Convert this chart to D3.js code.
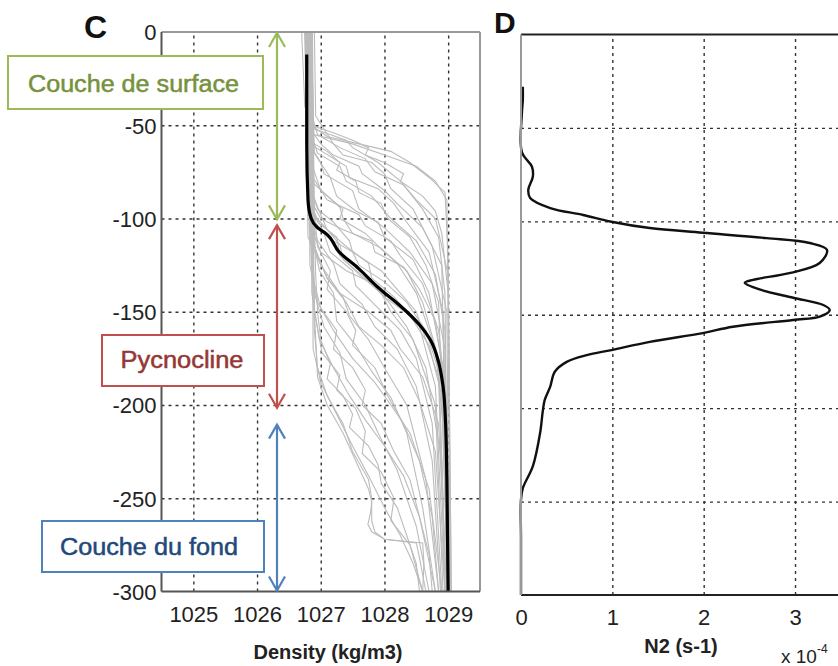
<!DOCTYPE html>
<html><head><meta charset="utf-8">
<script src="https://cdn.jsdelivr.net/npm/d3@7"></script>
<style>
html,body{margin:0;padding:0;background:#fff;}
svg{display:block;}
text{font-family:"Liberation Sans",Arial,sans-serif;}
</style></head>
<body>
<svg id="chart" width="838" height="666"></svg>
<script>
// ---------- DATA ----------
const densityTicks = [1025, 1026, 1027, 1028, 1029];
const depthTicks = [0, -50, -100, -150, -200, -250, -300];
const n2Ticks = [0, 1, 2, 3];
const n2GridDepths = [-50, -100, -150, -200, -250];

// Individual density profiles (grey): [depth, density]
const profiles = [
 [[0,1026.78],[-30,1026.8],[-50,1026.85],[-56,1027.1],[-60,1027.6],[-64,1028.1],[-70,1028.4],[-78,1028.7],[-86,1028.95],[-120,1029.0],[-200,1029.02],[-300,1029.03]],
 [[0,1026.8],[-40,1026.82],[-55,1026.95],[-62,1027.3],[-68,1027.7],[-75,1027.85],[-82,1028.3],[-95,1028.6],[-110,1028.85],[-140,1028.95],[-300,1029.0]],
 [[0,1026.75],[-50,1026.8],[-60,1027.0],[-66,1027.2],[-72,1027.6],[-76,1027.65],[-85,1028.0],[-92,1028.2],[-105,1028.6],[-125,1028.9],[-300,1029.0]],
 [[0,1026.82],[-55,1026.85],[-65,1026.95],[-72,1027.3],[-80,1027.4],[-88,1027.8],[-100,1028.1],[-112,1028.5],[-130,1028.8],[-160,1028.95],[-300,1029.0]],
 [[0,1026.78],[-60,1026.82],[-70,1027.0],[-76,1027.05],[-85,1027.5],[-95,1027.6],[-105,1028.0],[-118,1028.4],[-135,1028.75],[-170,1028.95],[-300,1029.0]],
 [[0,1026.85],[-65,1026.9],[-78,1027.15],[-88,1027.25],[-96,1027.55],[-102,1027.9],[-110,1028.0],[-122,1028.45],[-140,1028.7],[-180,1028.92],[-300,1028.98]],
 [[0,1026.8],[-70,1026.85],[-85,1027.0],[-95,1027.35],[-100,1027.3],[-108,1027.7],[-118,1028.0],[-128,1028.35],[-145,1028.6],[-175,1028.85],[-300,1028.97]],
 [[0,1026.76],[-80,1026.8],[-95,1026.95],[-102,1027.2],[-112,1027.45],[-118,1027.5],[-128,1027.95],[-138,1028.2],[-150,1028.5],[-185,1028.85],[-300,1028.95]],
 [[0,1026.82],[-85,1026.85],[-98,1027.0],[-106,1027.1],[-115,1027.4],[-124,1027.75],[-132,1027.8],[-142,1028.15],[-158,1028.55],[-190,1028.8],[-300,1028.95]],
 [[0,1026.79],[-90,1026.83],[-102,1026.95],[-110,1027.25],[-120,1027.3],[-130,1027.6],[-140,1027.95],[-150,1028.1],[-165,1028.45],[-200,1028.8],[-300,1028.92]],
 [[0,1026.84],[-95,1026.88],[-108,1027.05],[-118,1027.15],[-128,1027.5],[-136,1027.55],[-148,1027.9],[-160,1028.25],[-175,1028.5],[-210,1028.75],[-300,1028.9]],
 [[0,1026.8],[-100,1026.85],[-112,1026.95],[-124,1027.2],[-135,1027.3],[-146,1027.65],[-158,1027.85],[-170,1028.2],[-190,1028.5],[-230,1028.75],[-300,1028.88]],
 [[0,1026.77],[-105,1026.82],[-120,1026.95],[-132,1027.1],[-142,1027.35],[-152,1027.45],[-165,1027.75],[-180,1028.0],[-200,1028.35],[-240,1028.65],[-300,1028.85]],
 [[0,1026.83],[-110,1026.87],[-128,1026.98],[-140,1027.2],[-155,1027.25],[-168,1027.55],[-182,1027.8],[-196,1028.1],[-215,1028.35],[-255,1028.6],[-300,1028.8]],
 [[0,1026.8],[-120,1026.85],[-140,1026.9],[-158,1027.05],[-172,1027.3],[-186,1027.4],[-200,1027.7],[-215,1027.9],[-235,1028.2],[-265,1028.5],[-300,1028.7]],
 [[0,1026.86],[-130,1026.88],[-160,1026.9],[-180,1026.95],[-195,1027.1],[-210,1027.35],[-225,1027.5],[-240,1027.75],[-250,1027.8],[-262,1027.8],[-268,1027.85],[-272,1028.0],[-274,1028.5],[-282,1028.55],[-300,1028.65]],
 [[0,1026.84],[-150,1026.9],[-185,1026.95],[-200,1027.1],[-215,1027.35],[-230,1027.55],[-245,1027.75],[-252,1027.8],[-258,1027.78],[-264,1027.74],[-268,1027.8],[-272,1028.0],[-274,1028.6],[-285,1028.62],[-300,1028.6]],
 [[0,1026.7],[-40,1026.75],[-52,1026.9],[-58,1027.4],[-62,1027.5],[-70,1027.9],[-80,1028.25],[-90,1028.5],[-100,1028.8],[-130,1029.0],[-300,1029.05]],
 [[0,1026.9],[-45,1026.92],[-60,1027.2],[-66,1027.35],[-70,1027.8],[-76,1028.0],[-84,1028.1],[-95,1028.45],[-115,1028.75],[-150,1028.98],[-300,1029.02]],
 [[0,1026.78],[-75,1026.82],[-90,1027.1],[-98,1027.6],[-104,1027.7],[-112,1028.1],[-120,1028.25],[-135,1028.6],[-160,1028.85],[-200,1028.98],[-300,1029.0]],
 [[0,1026.8],[-90,1026.84],[-100,1027.0],[-106,1027.35],[-112,1027.8],[-118,1027.85],[-126,1028.3],[-138,1028.55],[-155,1028.8],[-190,1028.95],[-300,1029.0]],
 [[0,1026.83],[-100,1026.87],[-110,1027.1],[-118,1027.5],[-125,1027.6],[-134,1028.0],[-145,1028.35],[-160,1028.65],[-185,1028.88],[-230,1028.97],[-300,1029.0]],
 [[0,1026.8],[-105,1026.85],[-118,1027.0],[-128,1027.4],[-136,1027.9],[-142,1028.0],[-152,1028.4],[-168,1028.7],[-195,1028.9],[-300,1029.0]],
 [[0,1026.75],[-110,1026.8],[-125,1027.0],[-140,1027.3],[-150,1027.75],[-160,1028.1],[-170,1028.25],[-185,1028.6],[-210,1028.85],[-300,1028.98]],
 [[0,1026.87],[-115,1026.9],[-132,1027.1],[-145,1027.4],[-158,1027.6],[-168,1027.95],[-180,1028.3],[-198,1028.55],[-225,1028.8],[-300,1028.95]],
 [[0,1026.8],[-125,1026.83],[-145,1026.95],[-160,1027.2],[-175,1027.5],[-188,1027.85],[-200,1028.1],[-215,1028.4],[-245,1028.7],[-300,1028.9]],
 [[0,1026.82],[-140,1026.86],[-165,1026.98],[-180,1027.2],[-195,1027.45],[-208,1027.7],[-222,1028.0],[-238,1028.3],[-260,1028.55],[-300,1028.8]],
 [[0,1026.85],[-170,1026.88],[-188,1027.0],[-205,1027.25],[-222,1027.5],[-238,1027.75],[-255,1028.0],[-270,1028.25],[-285,1028.45],[-300,1028.6]],
 [[0,1026.79],[-60,1026.83],[-72,1027.4],[-78,1027.45],[-84,1027.9],[-92,1028.15],[-102,1028.35],[-118,1028.7],[-150,1028.92],[-300,1029.02]],
 [[0,1026.81],[-80,1026.85],[-94,1027.3],[-100,1027.35],[-108,1027.5],[-116,1027.95],[-124,1028.2],[-140,1028.5],[-170,1028.8],[-220,1028.95],[-300,1028.98]],
 [[0,1026.76],[-95,1026.8],[-104,1027.05],[-114,1027.3],[-122,1027.35],[-132,1027.7],[-144,1028.05],[-158,1028.35],[-180,1028.65],[-230,1028.9],[-300,1028.95]],
 [[0,1026.84],[-55,1026.88],[-60,1027.5],[-66,1028.0],[-72,1028.5],[-80,1028.8],[-90,1028.98],[-300,1029.05]],
 [[0,1026.86],[-100,1026.9],[-130,1026.92],[-150,1026.95],[-165,1027.0],[-178,1027.15],[-186,1027.1],[-195,1027.35],[-205,1027.5],[-212,1027.45],[-222,1027.75],[-232,1027.9],[-242,1027.95],[-255,1028.2],[-270,1028.35],[-285,1028.5],[-300,1028.55]],
 [[0,1026.83],[-120,1026.87],[-150,1026.9],[-172,1027.02],[-184,1027.3],[-192,1027.25],[-202,1027.55],[-214,1027.7],[-226,1027.65],[-236,1027.95],[-250,1028.15],[-262,1028.1],[-275,1028.4],[-300,1028.6]],
 [[0,1026.8],[-110,1026.84],[-135,1026.9],[-148,1027.0],[-160,1027.25],[-170,1027.2],[-180,1027.5],[-192,1027.7],[-200,1027.65],[-210,1027.95],[-225,1028.15],[-240,1028.4],[-260,1028.55],[-280,1028.7],[-300,1028.75]],
 [[0,1026.85],[-90,1026.88],[-115,1026.95],[-128,1027.15],[-138,1027.1],[-150,1027.4],[-160,1027.55],[-168,1027.5],[-180,1027.85],[-195,1028.05],[-210,1028.3],[-230,1028.55],[-260,1028.75],[-300,1028.85]],
 [[0,1026.8],[-50,1026.85],[-54,1027.2],[-58,1027.5],[-62,1027.75],[-66,1027.7],[-70,1028.0],[-76,1028.3],[-80,1028.25],[-88,1028.6],[-96,1028.8],[-108,1028.9],[-140,1029.0],[-300,1029.03]],
 [[0,1026.78],[-58,1026.8],[-64,1027.1],[-70,1027.3],[-74,1027.25],[-80,1027.55],[-86,1027.6],[-92,1027.95],[-100,1028.05],[-110,1028.4],[-125,1028.65],[-145,1028.85],[-300,1029.0]]
];

// Mean density profile (black)
const meanDepth   = [-12, -60, -90, -100, -105, -108, -118, -127, -137, -144, -150, -157, -165, -177, -190, -210, -240, -300];
const meanDensity = [1026.78, 1026.78, 1026.8, 1026.85, 1026.95, 1027.08, 1027.29, 1027.6, 1027.9, 1028.15, 1028.35, 1028.55, 1028.72, 1028.85, 1028.92, 1028.96, 1028.98, 1029.0];

// Mean N2 profile (x 10^-4 s^-2)
const n2Depth = [-28, -35, -42, -63, -70.8, -76, -83, -87.5, -92.9, -96.6, -100.2, -103.6, -106.1, -109, -111.6, -115.3, -122.3, -127.6, -131.3, -132.9, -136.6, -140.9, -144.8, -147.5, -151, -152.8, -156.4, -159.8, -164.5, -168.9, -171.6, -175.2, -180.5, -188.5, -195.6, -201, -213, -231, -242.8, -249, -270, -300];
const n2Value = [0.02, 0.02, 0.01, 0.01, 0.12, 0.13, 0.08, 0.1, 0.32, 0.68, 0.99, 1.41, 1.99, 2.69, 3.16, 3.35, 3.27, 2.95, 2.54, 2.45, 2.62, 2.98, 3.31, 3.38, 3.27, 2.98, 2.32, 1.99, 1.41, 0.99, 0.72, 0.5, 0.37, 0.32, 0.26, 0.24, 0.21, 0.13, 0.02, 0.0, 0.0, 0.0];

// Annotation layers
const layerNames = ["Couche de surface", "Pycnocline", "Couche du fond"];
const layerTop = [0, -103, -210];
const layerBottom = [-101, -202, -300];
const layerColors = ["#9bbb59", "#c0504d", "#4f81bd"];
const layerTextColors = ["#76923c", "#953735", "#1f497d"];

// ---------- DRAW ----------
const svg = d3.select("#chart");
const font = "Liberation Sans, Arial, sans-serif";

// Panel C scales
const xC = d3.scaleLinear().domain([1024.5, 1029.5]).range([161.5, 480]);
const yC = d3.scaleLinear().domain([-300, 0]).range([591.5, 32]);

// Panel D scales
const xD = d3.scaleLinear().domain([0, 3.5]).range([521, 840.7]);
const yD = d3.scaleLinear().domain([-300, 0]).range([595, 34.5]);

function gridStyle(g) {
  g.select(".domain").remove();
  g.selectAll("line").attr("stroke", "#333").attr("stroke-width", 1.4).attr("stroke-dasharray", "3,4");
  g.selectAll("text").remove();
}

// ---- Panel C ----
const gC = svg.append("g");
gC.append("g").attr("transform", `translate(0,${yC(-300)})`)
  .call(d3.axisBottom(xC).tickValues(densityTicks).tickSize(-(yC(-300) - yC(0))))
  .call(gridStyle);
gC.append("g").attr("transform", `translate(${xC(1024.5)},0)`)
  .call(d3.axisLeft(yC).tickValues(depthTicks.filter(d => d !== 0 && d !== -300)).tickSize(-(xC(1029.5) - xC(1024.5))))
  .call(gridStyle);

const lineC = d3.line().x(d => xC(d[1])).y(d => yC(d[0]));
gC.append("g").selectAll("path").data(profiles).join("path")
  .attr("d", lineC).attr("fill", "none")
  .attr("stroke", "#bcbcbc").attr("stroke-width", 1.1);

const meanPts = meanDepth.map((d, i) => [d, meanDensity[i]]);
gC.append("path").datum(meanPts).attr("d", d3.line().x(d => xC(d[1])).y(d => yC(d[0])).curve(d3.curveMonotoneY))
  .attr("fill", "none").attr("stroke", "#000").attr("stroke-width", 3.2);

// frame
gC.append("line").attr("x1", xC(1024.5)).attr("x2", xC(1029.5)).attr("y1", yC(0)).attr("y2", yC(0)).attr("stroke", "#999").attr("stroke-width", 2);
gC.append("line").attr("x1", xC(1029.5)).attr("x2", xC(1029.5)).attr("y1", yC(0)).attr("y2", yC(-300)).attr("stroke", "#999").attr("stroke-width", 2);
gC.append("line").attr("x1", xC(1024.5)).attr("x2", xC(1029.5)).attr("y1", yC(-300)).attr("y2", yC(-300)).attr("stroke", "#555").attr("stroke-width", 2);
gC.append("line").attr("x1", xC(1024.5)).attr("x2", xC(1024.5)).attr("y1", yC(0)).attr("y2", yC(-300)).attr("stroke", "#555").attr("stroke-width", 2);

const axYC = gC.append("g").attr("transform", `translate(${xC(1024.5)},0)`)
  .call(d3.axisLeft(yC).tickValues(depthTicks).tickSize(0).tickPadding(5).tickFormat(d => String(d)));
axYC.select(".domain").remove();
axYC.selectAll("text").attr("font-size", 22).attr("font-family", font).attr("fill", "#222").attr("dy", "0.36em");

const axXC = gC.append("g").attr("transform", `translate(0,${yC(-300)})`)
  .call(d3.axisBottom(xC).tickValues(densityTicks).tickSize(0).tickPadding(0).tickFormat(d => String(d)));
axXC.select(".domain").remove();
axXC.selectAll("text").attr("font-size", 22).attr("font-family", font).attr("fill", "#222").attr("dy", null).attr("y", 30);

svg.append("text").attr("x", 328).attr("y", 659).attr("text-anchor", "middle")
  .attr("font-size", 20).attr("font-weight", "bold").attr("fill", "#222").text("Density (kg/m3)");
svg.append("text").attr("x", 84).attr("y", 38).attr("font-size", 32).attr("font-weight", "bold").attr("fill", "#111").text("C");

// ---- Panel D ----
const gD = svg.append("g");
gD.append("g").attr("transform", `translate(0,${yD(-300)})`)
  .call(d3.axisBottom(xD).tickValues(n2Ticks.filter(d => d > 0)).tickSize(-(yD(-300) - yD(0))))
  .call(gridStyle);
gD.append("g").attr("transform", `translate(${xD(0)},0)`)
  .call(d3.axisLeft(yD).tickValues(n2GridDepths).tickSize(-(xD(3.5) - xD(0))))
  .call(gridStyle);

const n2Pts = n2Depth.map((d, i) => [d, n2Value[i]]);
gD.append("path").datum(n2Pts)
  .attr("d", d3.line().x(d => xD(d[1])).y(d => yD(d[0])).curve(d3.curveCatmullRom.alpha(0.5)))
  .attr("fill", "none").attr("stroke", "#111").attr("stroke-width", 2.4);

gD.append("line").attr("x1", xD(0)).attr("x2", 838).attr("y1", yD(0)).attr("y2", yD(0)).attr("stroke", "#222").attr("stroke-width", 2);
gD.append("line").attr("x1", xD(0)).attr("x2", 838).attr("y1", yD(-300)).attr("y2", yD(-300)).attr("stroke", "#222").attr("stroke-width", 2);
gD.append("line").attr("x1", xD(0)).attr("x2", xD(0)).attr("y1", yD(0)).attr("y2", yD(-300)).attr("stroke", "#999").attr("stroke-width", 2);

const axXD = gD.append("g").attr("transform", `translate(0,${yD(-300)})`)
  .call(d3.axisBottom(xD).tickValues(n2Ticks).tickSize(0).tickPadding(0).tickFormat(d => String(d)));
axXD.select(".domain").remove();
axXD.selectAll("text").attr("font-size", 22).attr("font-family", font).attr("fill", "#222").attr("dy", null).attr("y", 30);

svg.append("text").attr("x", 681).attr("y", 653).attr("text-anchor", "middle")
  .attr("font-size", 20).attr("font-weight", "bold").attr("fill", "#222").text("N2 (s-1)");
const xt = svg.append("text").attr("x", 781).attr("y", 663).attr("font-size", 19).attr("fill", "#222");
xt.append("tspan").text("x 10");
xt.append("tspan").attr("font-size", 12).attr("dy", -10).text("-4");
svg.append("text").attr("x", 494).attr("y", 33).attr("font-size", 30).attr("font-weight", "bold").attr("fill", "#111").text("D");

// ---- Annotations ----
const arrowX = 277;
const ann = svg.append("g");
layerNames.forEach((name, i) => {
  const y1 = yC(layerTop[i]), y2 = yC(layerBottom[i]);
  const c = layerColors[i];
  const a = ann.append("g").attr("stroke", c).attr("stroke-width", 2.2).attr("fill", "none");
  a.append("line").attr("x1", arrowX).attr("x2", arrowX).attr("y1", y1 + 1).attr("y2", y2 - 1);
  a.append("path").attr("d", `M${arrowX - 8},${y1 + 15}L${arrowX},${y1 + 1}L${arrowX + 8},${y1 + 15}`);
  a.append("path").attr("d", `M${arrowX - 8},${y2 - 15}L${arrowX},${y2 - 1}L${arrowX + 8},${y2 - 15}`);
});

const boxes = [
  {x: 8, y: 56, w: 255, h: 53, tx: 133.5, ty: 92, tl: 211},
  {x: 102, y: 335, w: 162, h: 51, tx: 182, ty: 368, tl: 123},
  {x: 42, y: 521, w: 222, h: 51, tx: 149, ty: 555, tl: 178}
];
boxes.forEach((b, i) => {
  ann.append("rect").attr("x", b.x).attr("y", b.y).attr("width", b.w).attr("height", b.h)
    .attr("fill", "#fff").attr("stroke", layerColors[i]).attr("stroke-width", 2);
  ann.append("text").attr("x", b.tx).attr("y", b.ty).attr("text-anchor", "middle")
    .attr("font-family", "Lato, 'Open Sans', sans-serif").attr("font-size", 23)
    .attr("fill", layerTextColors[i]).attr("stroke", layerTextColors[i]).attr("stroke-width", 0.5)
    .attr("textLength", b.tl).attr("lengthAdjust", "spacingAndGlyphs")
    .text(layerNames[i]);
});
</script>
</body></html>
